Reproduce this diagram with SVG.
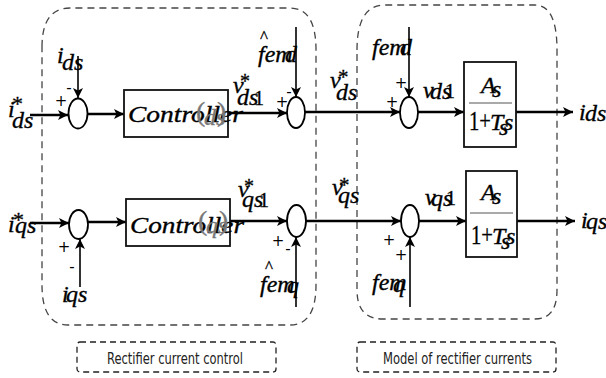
<svg xmlns="http://www.w3.org/2000/svg" width="606" height="378" viewBox="0 0 606 378">
<style>
.m{font-family:'Liberation Serif','Times New Roman','DejaVu Serif',serif;font-style:italic;font-size:24px;fill:#000;stroke:#000;stroke-width:0.35}
.u{font-family:'Liberation Serif','Times New Roman','DejaVu Serif',serif;font-style:normal;fill:#000;stroke:#000;stroke-width:0.3}
.g{fill:#777;stroke:#777}
.sg{font-family:'DejaVu Sans',sans-serif;font-size:15px;fill:#000;text-anchor:middle}
.lb{font-family:'DejaVu Sans Condensed','Liberation Sans Narrow','DejaVu Sans',sans-serif;font-size:16px;fill:#222}
.blk{fill:#fff;stroke:#111;stroke-width:1.8}
.sum{fill:#fff;stroke:#000;stroke-width:1.8}
.thick{fill:none;stroke:#000;stroke-width:2.6}
.thin{fill:none;stroke:#000;stroke-width:1.6}
.dash{fill:none;stroke:#222;stroke-width:1.3;stroke-dasharray:6 4}
.dashg{fill:none;stroke:#444;stroke-width:1.3;stroke-dasharray:7 5}
.frac{stroke:#555;stroke-width:1.2}
</style>
<defs>
<marker id="ah" viewBox="0 0 10 10" refX="10" refY="5" markerWidth="12" markerHeight="10" markerUnits="userSpaceOnUse" orient="auto">
<path d="M0,0 L10,5 L0,10 L2.5,5 Z" fill="#000"/>
</marker>
</defs>

<g id="containers">
<path class="dashg" d="M42,47 Q42,8 70,8 L290,8 Q316,8 316,50 L316,285 Q316,325 290,325 L68,325 Q42,325 42,285 Z"/>
<path class="dashg" d="M357,50 Q357,5 385,5 L535,5 Q557,5 557,50 L557,290 Q557,319 535,319 L383,319 Q357,319 357,290 Z"/>
</g>

<g id="connectors">
<line class="thick" x1="30" y1="115" x2="68" y2="115" marker-end="url(#ah)"/>
<line class="thin" x1="78" y1="56" x2="78" y2="98" marker-end="url(#ah)"/>
<line class="thick" x1="87" y1="114" x2="124" y2="114" marker-end="url(#ah)"/>
<line class="thick" x1="228" y1="113" x2="287" y2="113" marker-end="url(#ah)"/>
<line class="thin" x1="296" y1="27" x2="296" y2="97" marker-end="url(#ah)"/>
<line class="thick" x1="305" y1="112" x2="400" y2="112" marker-end="url(#ah)"/>
<line class="thin" x1="409" y1="27" x2="409" y2="97" marker-end="url(#ah)"/>
<line class="thick" x1="418" y1="112" x2="464" y2="112" marker-end="url(#ah)"/>
<line class="thick" x1="516" y1="112" x2="573" y2="112" marker-end="url(#ah)"/>

<line class="thick" x1="30" y1="223" x2="69" y2="223" marker-end="url(#ah)"/>
<line class="thin" x1="80" y1="287" x2="80" y2="239" marker-end="url(#ah)"/>
<line class="thick" x1="88" y1="222" x2="126" y2="222" marker-end="url(#ah)"/>
<line class="thick" x1="230" y1="221" x2="287" y2="221" marker-end="url(#ah)"/>
<line class="thin" x1="296" y1="307" x2="296" y2="237" marker-end="url(#ah)"/>
<line class="thick" x1="306" y1="221" x2="401" y2="221" marker-end="url(#ah)"/>
<line class="thin" x1="410" y1="307" x2="410" y2="237" marker-end="url(#ah)"/>
<line class="thick" x1="419" y1="221" x2="466" y2="221" marker-end="url(#ah)"/>
<line class="thick" x1="517" y1="221" x2="575" y2="221" marker-end="url(#ah)"/>
</g>

<g id="sum1d"><ellipse class="sum" cx="78" cy="113.5" rx="9.5" ry="15"/>
<text class="sg" x="61" y="106">+</text><text class="sg" x="69" y="93">-</text></g>
<g id="ctrl_d"><rect class="blk" x="124" y="90" width="104" height="47"/>
<text class="m" x="128" y="122" font-size="29" textLength="115" lengthAdjust="spacingAndGlyphs">Controller</text>
<text class="u g" x="196" y="121" font-size="28">(</text><text class="u g" x="217" y="121" font-size="28">)</text>
<text class="m g" x="204" y="125" font-size="20">ds</text></g>
<g id="sum2d"><ellipse class="sum" cx="296" cy="112.5" rx="9" ry="15.5"/>
<text class="sg" x="282" y="107">+</text><text class="sg" x="289" y="97">-</text></g>
<g id="sum3d"><ellipse class="sum" cx="409" cy="112.5" rx="9" ry="15.5"/>
<text class="sg" x="401" y="88">+</text><text class="sg" x="392" y="107">+</text></g>
<g id="plant_d"><rect class="blk" x="464" y="62" width="52" height="85"/>
<line class="frac" x1="469" y1="103" x2="512" y2="103"/>
<text class="m" x="481" y="93" font-size="26">A</text><text class="m" x="492" y="97" font-size="14">s</text>
<text class="u" x="469" y="130" font-size="27" textLength="22" lengthAdjust="spacingAndGlyphs">1+</text><text class="m" x="490" y="130" font-size="27">T</text><text class="m" x="499" y="135" font-size="14">s</text><text class="m" x="504" y="130" font-size="27">s</text></g>

<g id="sum1q"><ellipse class="sum" cx="78.5" cy="224.5" rx="9.5" ry="14.5"/>
<text class="sg" x="64" y="252">+</text><text class="sg" x="72" y="272">-</text></g>
<g id="ctrl_q"><rect class="blk" x="126" y="199" width="104" height="47"/>
<text class="m" x="130" y="233" font-size="29" textLength="114" lengthAdjust="spacingAndGlyphs">Controller</text>
<text class="u g" x="198" y="230" font-size="28">(</text><text class="u g" x="219" y="230" font-size="28">)</text>
<text class="m g" x="206" y="233" font-size="20">qs</text></g>
<g id="sum2q"><ellipse class="sum" cx="296.5" cy="221" rx="9.5" ry="16"/>
<text class="sg" x="278" y="246">+</text><text class="sg" x="288" y="254">-</text></g>
<g id="sum3q"><ellipse class="sum" cx="410" cy="221" rx="9" ry="16"/>
<text class="sg" x="389" y="245">+</text><text class="sg" x="401" y="260">+</text></g>
<g id="plant_q"><rect class="blk" x="466" y="171" width="51" height="86"/>
<line class="frac" x1="470" y1="213" x2="513" y2="213"/>
<text class="m" x="481" y="200" font-size="26">A</text><text class="m" x="492" y="204" font-size="14">s</text>
<text class="u" x="471" y="244" font-size="27" textLength="22" lengthAdjust="spacingAndGlyphs">1+</text><text class="m" x="492" y="244" font-size="27">T</text><text class="m" x="501" y="249" font-size="14">s</text><text class="m" x="506" y="244" font-size="27">s</text></g>

<g id="labels">
<text class="m" x="8" y="117" font-size="26">i</text><text class="u" x="12" y="111" font-size="22">*</text><text class="m" x="12" y="128">ds</text>
<text class="m" x="57" y="63" font-size="26">i</text><text class="m" x="62" y="70">ds</text>
<text class="m" x="233" y="93" font-size="26">v</text><text class="u" x="240" y="88" font-size="20">*</text><text class="m" x="237" y="105" font-size="22">ds</text><text class="u" x="254" y="105" font-size="20">1</text>
<text class="u" x="260" y="42" font-size="17">^</text><text class="m" x="258" y="62" font-size="25">fem</text><text class="m" x="285" y="62" font-size="20">d</text>
<text class="m" x="330" y="88" font-size="27">v</text><text class="u" x="338" y="84" font-size="21">*</text><text class="m" x="336" y="100">ds</text>
<text class="m" x="372" y="55" font-size="25">fem</text><text class="m" x="400" y="55" font-size="20">d</text>
<text class="m" x="423" y="98" font-size="25">v</text><text class="m" x="430" y="99" font-size="22">ds</text><text class="u" x="445" y="98" font-size="20">1</text>
<text class="m" x="579" y="120" font-size="26">i</text><text class="m" x="585" y="121">ds</text>

<text class="m" x="8" y="232" font-size="26">i</text><text class="u" x="13" y="227" font-size="22">*</text><text class="m" x="15" y="233">qs</text>
<text class="m" x="62" y="302" font-size="26">i</text><text class="m" x="66" y="302">qs</text>
<text class="m" x="238" y="197" font-size="26">v</text><text class="u" x="244" y="193" font-size="20">*</text><text class="m" x="242" y="207" font-size="22">qs</text><text class="u" x="259" y="207" font-size="20">1</text>
<text class="u" x="265" y="272" font-size="17">^</text><text class="m" x="260" y="292" font-size="25">fem</text><text class="m" x="287" y="293" font-size="20">q</text>
<text class="m" x="332" y="195" font-size="27">v</text><text class="u" x="339" y="192" font-size="21">*</text><text class="m" x="338" y="203">qs</text>
<text class="m" x="372" y="290" font-size="25">fem</text><text class="m" x="393" y="292" font-size="20">q</text>
<text class="m" x="425" y="205" font-size="25">v</text><text class="m" x="431" y="206" font-size="22">qs</text><text class="u" x="446" y="205" font-size="20">1</text>
<text class="m" x="581" y="228" font-size="26">i</text><text class="m" x="586" y="229" font-size="22">qs</text>
</g>

<g id="label_rect_control">
<rect class="dash" x="77" y="342" width="199" height="30" rx="3"/>
<text class="lb" x="107" y="364" textLength="136" lengthAdjust="spacingAndGlyphs">Rectifier current control</text>
</g>
<g id="label_model_currents">
<rect class="dash" x="357" y="342" width="199" height="30" rx="3"/>
<text class="lb" x="383" y="364" textLength="149" lengthAdjust="spacingAndGlyphs">Model of rectifier currents</text>
</g>
</svg>
